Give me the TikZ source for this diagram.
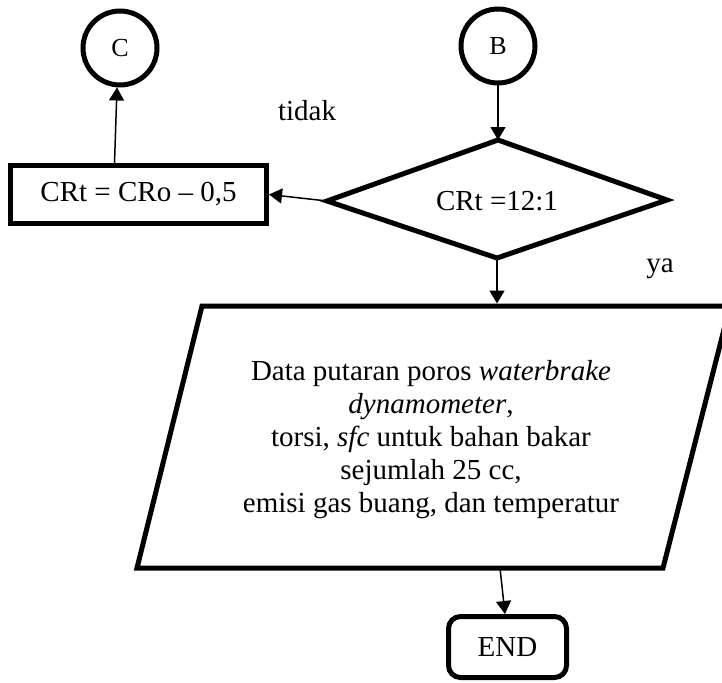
\documentclass[tikz,border=0pt]{standalone}
\usepackage{fontspec}
\setmainfont{Liberation Serif}
\usetikzlibrary{arrows.meta}

\begin{document}
\begin{tikzpicture}[
  x=1pt, y=-1pt,
  every node/.style={font=\fontsize{29}{33}\selectfont},
  thick outline/.style={draw, line width=5pt},
  connector/.style={draw, line width=1.5pt, -{Triangle[length=13pt,width=15pt]}},
  circ/.style={thick outline, circle, minimum size=74pt, inner sep=0pt,
               font=\fontsize{26}{28}\selectfont},
  procbox/.style={thick outline, rectangle, minimum width=256pt,
                  minimum height=58pt, inner sep=0pt},
  termbox/.style={thick outline, rectangle, rounded corners=12pt,
                  minimum width=118pt, minimum height=61pt, inner sep=0pt},
]
\useasboundingbox (0,0) rectangle (722,682);

% connectors' circles
\node[circ] (C) at (120,48) {C};
\node[circ] (B) at (498,46) {B};

% process box
\node[procbox] (calc) at (138.5,194.5) {CRt = CRo -- 0,5};

% decision
\coordinate (dN) at (498,140);
\coordinate (dE) at (667,200);
\coordinate (dS) at (497,258);
\coordinate (dW) at (327,201);
\draw[thick outline] (dN) -- (dE) -- (dS) -- (dW) -- cycle;
\node (dlabel) at (497,201) {CRt =12:1};

% data (input/output) parallelogram
\coordinate (pTL) at (202,306);
\coordinate (pTR) at (730,306);
\coordinate (pBR) at (663,568);
\coordinate (pBL) at (137,568);
\draw[thick outline] (pTL) -- (pTR) -- (pBR) -- (pBL) -- cycle;
\coordinate (ptop) at (497,303.5);
\coordinate (pbot) at (500,568);
\node[align=center] (info) at (431,440)
  {Data putaran poros \textit{waterbrake}\\
   \textit{dynamometer},\\
   torsi, \textit{sfc} untuk bahan bakar\\
   sejumlah 25 cc,\\
   emisi gas buang, dan temperatur};

% terminator
\node[termbox] (end) at (507.5,647) {END};

% branch labels
\node[anchor=base] (no) at (307,121) {tidak};
\node[anchor=base] (yes) at (660,272) {ya};

% flow lines
\draw[connector] (B) -- (dN);
\draw[connector] (dW) -- (calc.east);
\draw[connector] ([xshift=-24pt]calc.north) -- ([xshift=-3pt]C.south);
\draw[connector] (dS) -- (ptop);
\draw[connector] (pbot) -- ([xshift=-2.5pt]end.north);
\end{tikzpicture}
\end{document}
